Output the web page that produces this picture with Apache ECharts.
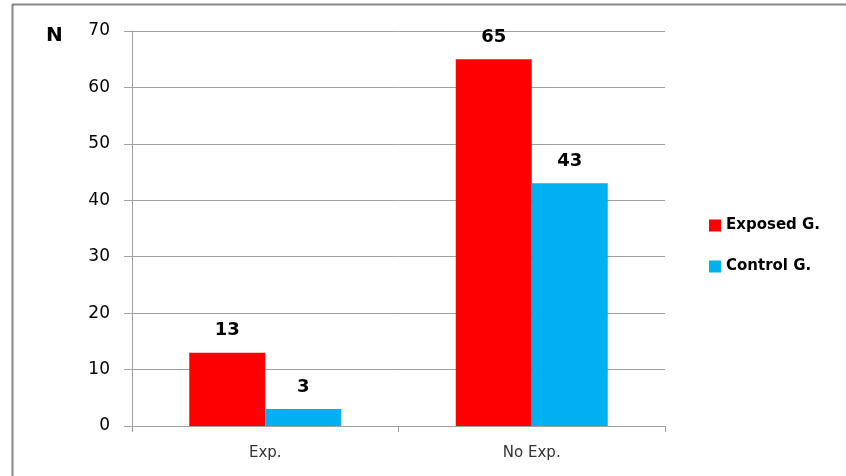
<!DOCTYPE html>
<html>
<head>
<meta charset="utf-8">
<script src="https://cdn.jsdelivr.net/npm/echarts@6/dist/echarts.min.js"></script>
<style>
  html, body { margin: 0; padding: 0; background: #fff; }
  #main { width: 846px; height: 476px; }
</style>
</head>
<body>
<div id="main"></div>
<script>
    const categories = ['Exp.', 'No Exp.'];
    const exposedValues = [13, 65];
    const controlValues = [3, 43];
    const seriesNames = ['Exposed G.', 'Control G.'];

    const labelStyle = {
        show: true,
        position: 'top',
        distance: 13,
        fontFamily: 'DejaVu Sans',
        fontWeight: 'bold',
        fontSize: 18,
        color: '#000'
    };

    const option = {
        animation: false,
        backgroundColor: '#fff',
        grid: { left: 132, right: 181, top: 31, bottom: 50 },
        legend: {
            orient: 'vertical',
            left: 704,
            top: 213,
            itemWidth: 12,
            itemHeight: 12,
            itemGap: 26,
            icon: 'rect',
            textStyle: {
                fontFamily: 'DejaVu Sans',
                fontWeight: 'bold',
                fontSize: 15,
                color: '#000'
            },
            data: seriesNames
        },
        xAxis: {
            type: 'category',
            data: categories,
            axisLine: { lineStyle: { color: '#a0a0a0' } },
            axisTick: { show: true, length: 6, lineStyle: { color: '#a0a0a0' } },
            axisLabel: {
                margin: 20,
                fontFamily: 'DejaVu Sans',
                fontSize: 15,
                color: '#333'
            }
        },
        yAxis: {
            type: 'value',
            min: 0,
            max: 70,
            interval: 10,
            axisLine: { show: true, lineStyle: { color: '#a0a0a0' } },
            axisTick: { show: true, length: 8, lineStyle: { color: '#a0a0a0' } },
            splitLine: { lineStyle: { color: '#a0a0a0' } },
            axisLabel: {
                margin: 22,
                fontFamily: 'DejaVu Sans',
                fontSize: 17,
                color: '#000'
            }
        },
        series: [
            {
                name: seriesNames[0],
                type: 'bar',
                data: exposedValues,
                barWidth: 76,
                barGap: '0%',
                itemStyle: { color: '#ff0000' },
                label: labelStyle
            },
            {
                name: seriesNames[1],
                type: 'bar',
                data: controlValues,
                barWidth: 76,
                itemStyle: { color: '#00b0f0' },
                label: labelStyle
            }
        ],
        graphic: [
            {
                type: 'line',
                shape: { x1: 12, y1: 4.5, x2: 846, y2: 4.5 },
                style: { stroke: '#888', lineWidth: 2 }
            },
            {
                type: 'line',
                shape: { x1: 12.5, y1: 4, x2: 12.5, y2: 476 },
                style: { stroke: '#888', lineWidth: 2 }
            },
            {
                type: 'text',
                left: 46,
                top: 26,
                style: {
                    text: 'N',
                    fontFamily: 'DejaVu Sans',
                    fontWeight: 'bold',
                    fontSize: 20,
                    fill: '#000'
                }
            }
        ]
    };

    const myChart = echarts.init(document.getElementById('main'));
    myChart.setOption(option);
</script>
</body>
</html>
